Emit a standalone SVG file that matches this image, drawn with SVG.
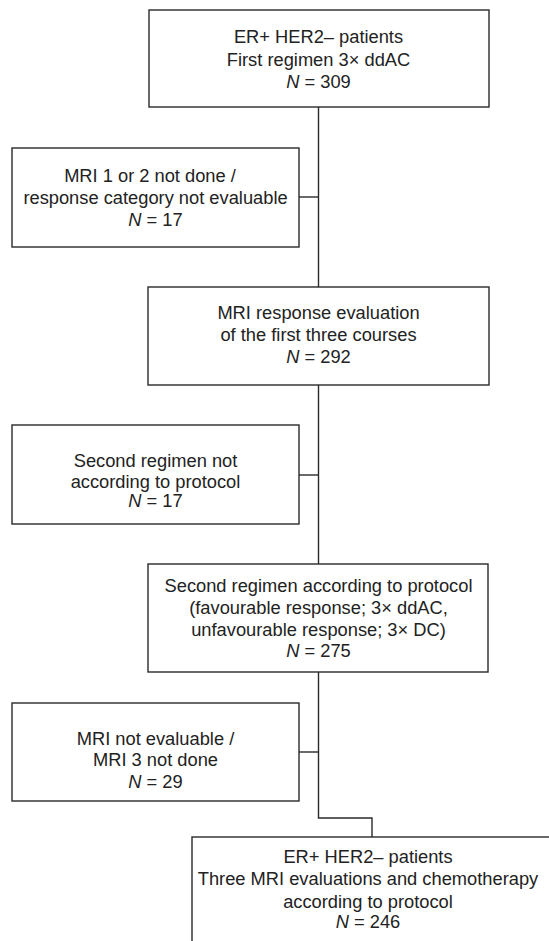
<svg xmlns="http://www.w3.org/2000/svg" width="549" height="941" viewBox="0 0 549 941">
<style>
.box{fill:#fff;stroke:#2a2a2a;stroke-width:1.4}
.t{font-family:"Liberation Sans",Arial,sans-serif;font-size:18.3px;fill:#222;text-anchor:middle}
.c{fill:none;stroke:#2a2a2a;stroke-width:1.4}
</style>
<rect width="549" height="941" fill="#fff"/>
<g id="connectors">
<path class="c" d="M318.5,107 V287"/>
<path class="c" d="M318.5,385 V564"/>
<path class="c" d="M318.5,672 V818 H372 V837"/>
<path class="c" d="M299,197 H318.5"/>
<path class="c" d="M299,475 H318.5"/>
<path class="c" d="M299,752 H318.5"/>
</g>
<g id="n1">
<rect class="box" x="149" y="10" width="340" height="97"/>
<text class="t" x="318.5" y="43">ER+ HER2– patients</text>
<text class="t" x="318.5" y="65.5">First regimen 3× ddAC</text>
<text class="t" x="318.5" y="88"><tspan font-style="italic">N</tspan> = 309</text>
</g>
<g id="n2">
<rect class="box" x="12" y="148" width="287" height="99"/>
<text class="t" x="150" y="182">MRI 1 or 2 not done /</text>
<text class="t" x="155.5" y="204">response category not evaluable</text>
<text class="t" x="155.5" y="226"><tspan font-style="italic">N</tspan> = 17</text>
</g>
<g id="n3">
<rect class="box" x="148" y="287" width="341" height="98"/>
<text class="t" x="318.5" y="319">MRI response evaluation</text>
<text class="t" x="318.5" y="341">of the first three courses</text>
<text class="t" x="318.5" y="363"><tspan font-style="italic">N</tspan> = 292</text>
</g>
<g id="n4">
<rect class="box" x="12" y="425" width="287" height="99"/>
<text class="t" x="155.5" y="467">Second regimen not</text>
<text class="t" x="155.5" y="488">according to protocol</text>
<text class="t" x="155.5" y="507"><tspan font-style="italic">N</tspan> = 17</text>
</g>
<g id="n5">
<rect class="box" x="148" y="564" width="340" height="108"/>
<text class="t" x="318.5" y="592">Second regimen according to protocol</text>
<text class="t" x="318.5" y="613.5">(favourable response; 3× ddAC,</text>
<text class="t" x="318.5" y="635.5">unfavourable response; 3× DC)</text>
<text class="t" x="318.5" y="657"><tspan font-style="italic">N</tspan> = 275</text>
</g>
<g id="n6">
<rect class="box" x="12" y="703" width="287" height="98"/>
<text class="t" x="155.5" y="745">MRI not evaluable /</text>
<text class="t" x="155.5" y="766">MRI 3 not done</text>
<text class="t" x="155.5" y="788"><tspan font-style="italic">N</tspan> = 29</text>
</g>
<g id="n7">
<rect class="box" x="192" y="837" width="400" height="200"/>
<text class="t" x="368" y="863">ER+ HER2– patients</text>
<text class="t" x="368" y="885">Three MRI evaluations and chemotherapy</text>
<text class="t" x="368" y="907.5">according to protocol</text>
<text class="t" x="368" y="928"><tspan font-style="italic">N</tspan> = 246</text>
</g>
</svg>
